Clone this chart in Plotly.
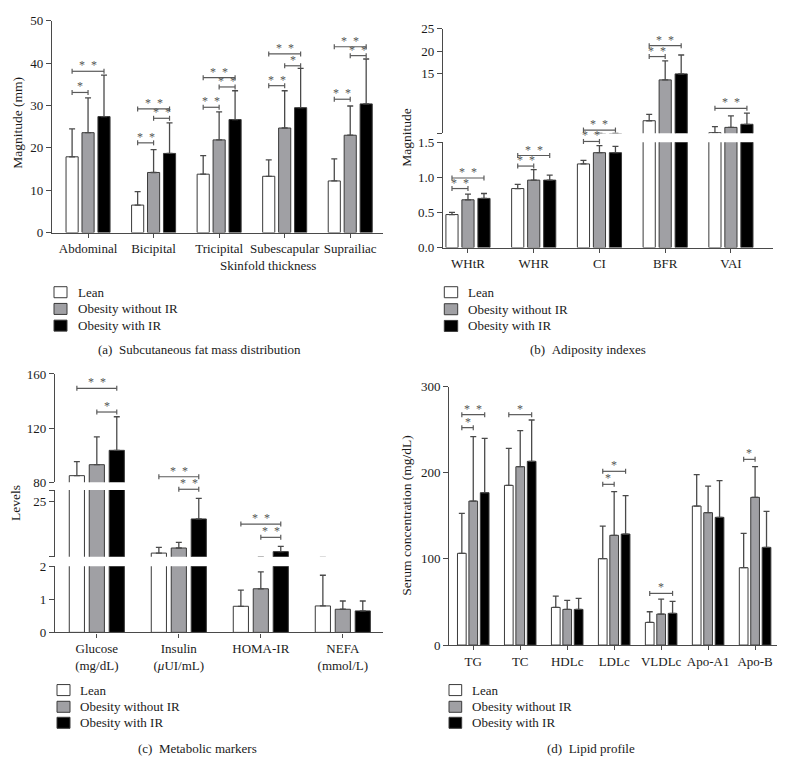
import plotly.graph_objects as go

W, H = 787, 775
# page placement of the figure inside the browser window (measured):
TX = 8            # horizontal page offset
TY = 15.5         # vertical page offset
SY = 0.98         # vertical scale of the captured page
FW, FH = 771, 765
FONT = "Liberation Serif"
GROUPS = ["Lean", "Obesity without IR", "Obesity with IR"]
FILLS = ["#ffffff", "#a0a0a4", "#000000"]
EDGE = "#3a3a3a"
AXC = "#4a4a4a"
BARGAP, GROUPGAP = 0.27, 0.24

# ---------------- data ----------------
# (a) Subcutaneous fat mass distribution (mm)
a_cats = ["Abdominal", "Bicipital", "Tricipital", "Subescapular", "Suprailiac"]
a_lean = [17.9, 6.5, 13.8, 13.3, 12.2]
a_lean_sd = [6.6, 3.2, 4.4, 3.9, 5.2]
a_obese = [23.6, 14.2, 21.9, 24.7, 23.0]
a_obese_sd = [8.2, 5.4, 6.6, 8.8, 6.9]
a_ir = [27.4, 18.7, 26.7, 29.5, 30.4]
a_ir_sd = [9.8, 7.2, 6.8, 9.3, 10.6]
a_sig = [(0, 0, 1, 33.1, "*"), (0, 0, 2, 38.1, "**"),
         (1, 0, 1, 21.2, "**"), (1, 1, 2, 27.0, "**"), (1, 0, 2, 29.2, "**"),
         (2, 0, 1, 29.6, "**"), (2, 1, 2, 34.4, "**"), (2, 0, 2, 36.6, "**"),
         (3, 0, 1, 34.7, "**"), (3, 1, 2, 39.4, "*"), (3, 0, 2, 42.2, "**"),
         (4, 0, 1, 31.5, "**"), (4, 1, 2, 41.8, "**"), (4, 0, 2, 43.9, "**")]

# (b) Adiposity indexes
b_cats = ["WHtR", "WHR", "CI", "BFR", "VAI"]
b_lean = [0.47, 0.84, 1.19, 4.3, 1.6]
b_lean_sd = [0.03, 0.06, 0.05, 1.45, 1.35]
b_obese = [0.68, 0.96, 1.35, 13.5, 2.8]
b_obese_sd = [0.08, 0.15, 0.10, 4.3, 2.6]
b_ir = [0.70, 0.96, 1.35, 14.85, 3.5]
b_ir_sd = [0.07, 0.07, 0.09, 4.25, 2.5]
b_sig = [(0, 0, 1, 0.84, "**", "lo"), (0, 0, 2, 0.99, "**", "lo"),
         (1, 0, 1, 1.16, "**", "lo"), (1, 0, 2, 1.31, "**", "lo"),
         (2, 0, 1, 1.51, "**", "lo"), (2, 0, 2, 2.2, "**", "hi"),
         (3, 0, 1, 18.75, "**", "hi"), (3, 0, 2, 21.2, "**", "hi"),
         (4, 0, 2, 7.1, "**", "hi")]

# (c) Metabolic markers
c_cats = ["Glucose<br>(mg/dL)", "Insulin<br>(<i>μ</i>UI/mL)", "HOMA-IR", "NEFA<br>(mmol/L)"]
c_lean = [84.9, 3.5, 0.79, 0.80]
c_lean_sd = [10.3, 2.4, 0.49, 0.93]
c_obese = [93.0, 5.6, 1.32, 0.70]
c_obese_sd = [20.5, 2.3, 0.51, 0.25]
c_ir = [103.6, 17.6, 4.1, 0.65]
c_ir_sd = [24.8, 8.5, 2.2, 0.30]
c_sig = [(0, 0, 2, 149.4, "**", "top"), (0, 1, 2, 131.9, "*", "top"),
         (1, 0, 2, 84.1, "**", "top"), (1, 1, 2, 29.85, "**", "mid"),
         (2, 0, 2, 15.5, "**", "mid"), (2, 1, 2, 10.0, "**", "mid")]

# (d) Lipid profile (mg/dL)
d_cats = ["TG", "TC", "HDLc", "LDLc", "VLDLc", "Apo-A1", "Apo-B"]
d_lean = [106.5, 185.4, 43.7, 100.3, 26.3, 161.4, 89.8]
d_lean_sd = [46.4, 43.0, 13.2, 37.9, 12.4, 36.4, 39.9]
d_obese = [167.2, 207.1, 41.4, 127.4, 36.0, 153.7, 171.5]
d_obese_sd = [74.7, 41.8, 10.5, 50.7, 17.4, 30.9, 35.6]
d_ir = [176.9, 213.3, 41.4, 128.9, 36.8, 148.3, 113.4]
d_ir_sd = [63.1, 48.0, 12.8, 44.5, 13.9, 42.5, 41.8]
d_sig = [(0, 0, 1, 252.4, "*"), (0, 0, 2, 267.5, "**"), (1, 0, 2, 267.5, "*"),
         (3, 0, 1, 186.6, "*"), (3, 0, 2, 201.7, "*"), (4, 0, 2, 60.0, "*"),
         (6, 0, 1, 215.6, "*")]


def px_x(px):
    return (px - TX) / FW


def px_y(py):
    return 1 - (py / SY - TY) / FH


# ---------------- layout geometry (window pixels) ----------------
PANELS = [
    dict(key="a", xa="x", x0=52, x1=383, xr=[-0.55, 4.5], cats=a_cats,
         vals=[(a_lean, a_lean_sd), (a_obese, a_obese_sd), (a_ir, a_ir_sd)],
         segs={"main": ("y", 21.1, 232.7, [0, 50], [0, 10, 20, 30, 40, 50], None)},
         sig=[s + ("main",) for s in a_sig]),
    dict(key="b", xa="x2", x0=443, x1=773, xr=[-0.38, 4.64], cats=b_cats,
         vals=[(b_lean, b_lean_sd), (b_obese, b_obese_sd), (b_ir, b_ir_sd)],
         segs={"lo": ("y2", 142.3, 247.7, [0, 1.5], [0, 0.5, 1.0, 1.5], ["0.0", "0.5", "1.0", "1.5"]),
               "hi": ("y3", 29, 133.3, [1.5, 25], [1.5, 15, 20, 25], ["", "15", "20", "25"])},
         sig=b_sig),
    dict(key="c", xa="x3", x0=55, x1=383, xr=[-0.51, 3.49], cats=c_cats,
         vals=[(c_lean, c_lean_sd), (c_obese, c_obese_sd), (c_ir, c_ir_sd)],
         segs={"bot": ("y4", 566.3, 632.3, [0, 2], [0, 1, 2], None),
               "mid": ("y5", 490, 556.7, [2, 29.55], [2, 25, 29.55], ["", "25", ""]),
               "top": ("y6", 374, 482.3, [80, 160], [80, 120, 160], None)},
         sig=c_sig),
    dict(key="d", xa="x4", x0=449.3, x1=776.7, xr=[-0.51, 6.46], cats=d_cats,
         vals=[(d_lean, d_lean_sd), (d_obese, d_obese_sd), (d_ir, d_ir_sd)],
         segs={"main": ("y7", 386.7, 645, [0, 300], [0, 100, 200, 300], None)},
         sig=[s + ("main",) for s in d_sig]),
]

LEGENDS = [  # square left, square right, text x, row centres
    (54, 67, 76, [292.3, 309.0, 325.7]),
    (444.3, 457.7, 466, [292.3, 309.3, 326.0]),
    (57, 70, 78.3, [690.0, 706.7, 722.7]),
    (449, 461.7, 470, [690.0, 706.7, 722.7]),
]
CAPTIONS = [("(a)\u00a0\u00a0Subcutaneous fat mass distribution", 199, 350),
            ("(b)\u00a0\u00a0Adiposity indexes", 587.5, 350),
            ("(c)\u00a0\u00a0Metabolic markers", 197.5, 748.3),
            ("(d)\u00a0\u00a0Lipid profile", 591.3, 748.3)]
YTITLES = [("Magnitude (mm)", 18, 123), ("Magnitude", 407, 138),
           ("Levels", 15, 503), ("Serum concentration (mg/dL)", 405.7, 516)]

fig = go.Figure()
layout = dict(width=FW, height=FH, margin=dict(l=0, r=0, t=0, b=0),
              paper_bgcolor="white", plot_bgcolor="white", showlegend=False,
              barmode="group", bargap=BARGAP, bargroupgap=GROUPGAP,
              font=dict(family=FONT, size=13, color="#1a1a1a"))
shapes, annots = [], []
tickfont = dict(family=FONT, size=13, color="#1a1a1a")
TICKH = 2.5 / SY / FH

for P in PANELS:
    xa = P["xa"]
    xkey = "xaxis" + xa[1:]
    segs = P["segs"]
    bottom_seg = max(segs.values(), key=lambda s: s[2])
    layout[xkey] = dict(domain=[px_x(P["x0"]), px_x(P["x1"])], range=P["xr"],
                        type="category", anchor=bottom_seg[0], showline=True,
                        linecolor=AXC, linewidth=1.3, ticks="outside", ticklen=4,
                        tickcolor=AXC, tickwidth=1.3, showgrid=False, zeroline=False,
                        tickfont=tickfont, fixedrange=True)
    for sname, (ya, top, bot, rng, tv, tt) in segs.items():
        ykey = "yaxis" + ya[1:]
        ax = dict(domain=[px_y(bot), px_y(top)], range=rng, anchor=xa,
                  showline=True, linecolor=AXC, linewidth=1.3, ticks="outside",
                  ticklen=5, tickcolor=AXC, tickwidth=1.3, showgrid=False,
                  zeroline=False, tickfont=tickfont, tickvals=tv)
        if tt is not None:
            ax["ticktext"] = tt
        layout[ykey] = ax
        for gi, (vals, sd) in enumerate(P["vals"]):
            fig.add_trace(go.Bar(
                x=P["cats"], y=vals, name=GROUPS[gi], xaxis=xa, yaxis=ya,
                marker=dict(color=FILLS[gi], line=dict(color=EDGE, width=1)),
                error_y=dict(type="data", array=sd, arrayminus=[0] * len(sd),
                             symmetric=False, color=AXC, thickness=1.3, width=3),
                showlegend=False))
    # significance brackets
    slot = (1 - BARGAP) / 3
    for (ci, g1, g2, yv, lab, sname) in P["sig"]:
        ya, top, bot, rng, tv, tt = segs[sname]
        py = bot - (yv - rng[0]) / (rng[1] - rng[0]) * (bot - top)
        yp = px_y(py)
        xa0 = ci + (g1 - 1) * slot
        xa1 = ci + (g2 - 1) * slot
        lc = dict(color="#5a5a5a", width=1.2)
        shapes.append(dict(type="line", xref=xa, yref="paper", x0=xa0, x1=xa1,
                           y0=yp, y1=yp, line=lc))
        for xe in (xa0, xa1):
            shapes.append(dict(type="line", xref=xa, yref="paper", x0=xe, x1=xe,
                               y0=yp - TICKH, y1=yp + TICKH, line=lc))
        annots.append(dict(x=(xa0 + xa1) / 2, y=yp, xref=xa, yref="paper",
                           text=lab.replace("**", "*\u2002*"), showarrow=False,
                           yanchor="middle", yshift=6,
                           font=dict(family=FONT, size=12, color="#555555")))

# x-axis title of panel (a)
annots.append(dict(x=px_x(218), y=px_y(266), xref="paper", yref="paper",
                   text="Skinfold thickness", showarrow=False,
                   font=dict(family=FONT, size=13, color="#1a1a1a")))

# legends (drawn per panel)
for (sx0, sx1, tx, rows) in LEGENDS:
    for gi, ry in enumerate(rows):
        shapes.append(dict(type="rect", xref="paper", yref="paper",
                           x0=px_x(sx0), x1=px_x(sx1), y0=px_y(ry + 5.5), y1=px_y(ry - 5.5),
                           fillcolor=FILLS[gi], line=dict(color=EDGE, width=1)))
        annots.append(dict(x=px_x(tx), y=px_y(ry), xref="paper", yref="paper",
                           text=GROUPS[gi], showarrow=False, xanchor="left",
                           yanchor="middle",
                           font=dict(family=FONT, size=13, color="#1a1a1a")))

for (txt, cx, cy) in CAPTIONS:
    annots.append(dict(x=px_x(cx), y=px_y(cy), xref="paper", yref="paper",
                       text=txt, showarrow=False, xanchor="center", yanchor="middle",
                       font=dict(family=FONT, size=13, color="#1a1a1a")))

for (txt, cx, cy) in YTITLES:
    annots.append(dict(x=px_x(cx), y=px_y(cy), xref="paper", yref="paper",
                       text=txt, showarrow=False, textangle=-90,
                       xanchor="center", yanchor="middle",
                       font=dict(family=FONT, size=13.5, color="#1a1a1a")))

layout["shapes"] = shapes
layout["annotations"] = annots
fig.update_layout(**layout)
fig.write_html("out.html")
